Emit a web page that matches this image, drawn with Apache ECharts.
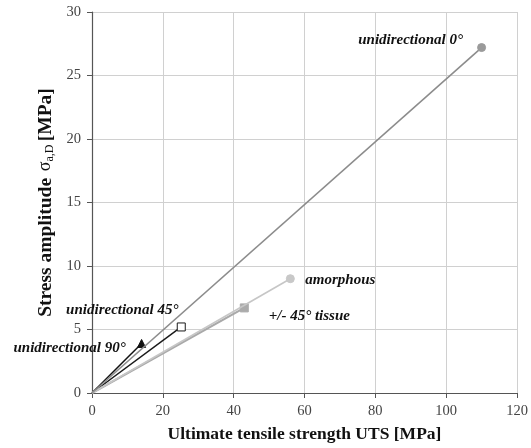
<!DOCTYPE html>
<html><head><meta charset="utf-8">
<script src="https://cdn.jsdelivr.net/npm/echarts@6/dist/echarts.min.js"></script>
<style>html,body{margin:0;padding:0;background:#fff}#c{width:531px;height:448px}</style>
</head><body><div id="c"></div>
<script>
const xTicks = [0, 20, 40, 60, 80, 100, 120];
const yTicks = [0, 5, 10, 15, 20, 25, 30];
const seriesNames = ['unidirectional 0°', 'amorphous', '+/- 45° tissue', 'unidirectional 45°', 'unidirectional 90°'];
const utsValues = [110, 56, 43, 25.2, 14];
const stressValues = [27.2, 9.0, 6.7, 5.2, 3.9];
const origin = [0, 0];

const styles = [
  {line: '#8c8c8c', width: 1.6, symbol: 'circle', size: 8, fill: '#9a9a9a', border: '#9a9a9a', off: [-71, -7]},
  {line: '#c6c6c6', width: 1.6, symbol: 'circle', size: 8, fill: '#c8c8c8', border: '#c8c8c8', off: [50, 1]},
  {line: '#a9a9a9', width: 2.2, symbol: 'rect', size: 8, fill: '#ababab', border: '#ababab', off: [65, 8]},
  {line: '#1a1a1a', width: 1.5, symbol: 'rect', size: 8, fill: '#ffffff', border: '#1a1a1a', off: [-59, -17]},
  {line: '#111111', width: 1.5, symbol: 'triangle', size: 8, fill: '#111111', border: '#111111', off: [-72, 5]}
];
const labelFont = {fontFamily: 'Liberation Serif', fontStyle: 'italic', fontWeight: 'bold', fontSize: 15, color: '#111'};

const series = seriesNames.map((name, i) => {
  const s = styles[i];
  return {
    name, type: 'line', z: 10 - i,
    lineStyle: {color: s.line, width: s.width},
    itemStyle: {color: s.fill, borderColor: s.border, borderWidth: 1},
    symbol: s.symbol, symbolSize: s.size, showSymbol: true,
    data: [
      {value: origin, symbol: 'none'},
      {value: [utsValues[i], stressValues[i]],
       label: Object.assign({show: true, formatter: name, position: 'inside', align: 'center', verticalAlign: 'middle', offset: s.off}, labelFont)}
    ],
    animation: false
  };
});

const chart = echarts.init(document.getElementById('c'));
chart.setOption({
  backgroundColor: '#fff',
  animation: false,
  grid: {left: 92, right: 14, top: 12, bottom: 55},
  xAxis: {
    type: 'value', min: 0, max: 120, interval: 20,
    name: 'Ultimate tensile strength UTS [MPa]', nameLocation: 'middle', nameGap: 32,
    nameTextStyle: {fontFamily: 'Liberation Serif', fontWeight: 'bold', fontSize: 17.5, color: '#111'},
    axisLine: {show: true, lineStyle: {color: '#555', width: 1.2}},
    axisTick: {show: true, inside: false, length: 5, lineStyle: {color: '#555'}},
    axisLabel: {fontFamily: 'Liberation Serif', fontSize: 14.5, color: '#444', margin: 11, formatter: v => xTicks.includes(v) ? String(v) : ''},
    splitLine: {show: true, lineStyle: {color: '#d0d0d0', width: 1}}
  },
  yAxis: {
    type: 'value', min: 0, max: 30, interval: 5,
    name: '{b|Stress amplitude}  {s|σ}{sub|a,D} {b|[MPa]}', nameLocation: 'middle', nameGap: 28, nameRotate: 90,
    nameTextStyle: {
      padding: [0, 0, 0, 0],
      rich: {
        b: {fontFamily: 'Liberation Serif', fontWeight: 'bold', fontSize: 19.5, color: '#111'},
        s: {fontFamily: 'Liberation Serif', fontSize: 18, color: '#111'},
        sub: {fontFamily: 'Liberation Serif', fontSize: 12, color: '#111', padding: [8, 0, 0, 0]}
      }
    },
    axisLine: {show: true, lineStyle: {color: '#555', width: 1.2}},
    axisTick: {show: true, inside: false, length: 5, lineStyle: {color: '#555'}},
    axisLabel: {fontFamily: 'Liberation Serif', fontSize: 14.5, color: '#444', margin: 11, formatter: v => yTicks.includes(v) ? String(v) : ''},
    splitLine: {show: true, lineStyle: {color: '#d0d0d0', width: 1}}
  },
  series
});
</script></body></html>
